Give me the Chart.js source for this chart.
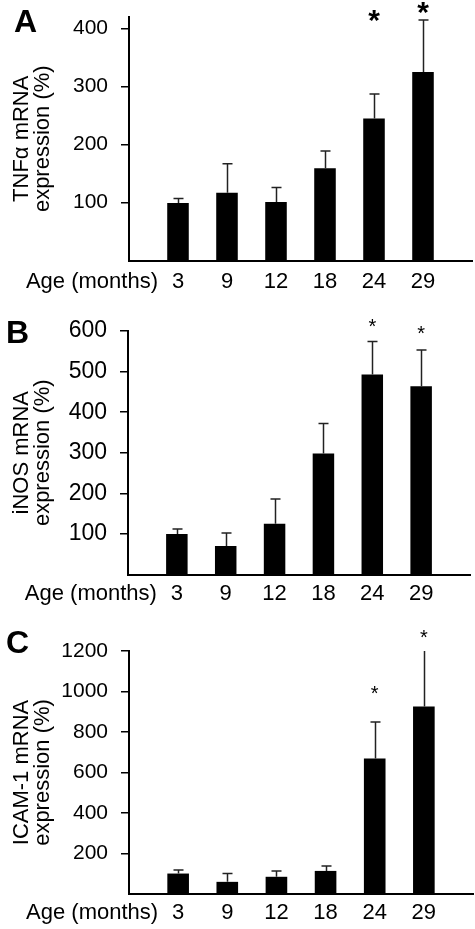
<!DOCTYPE html>
<html>
<head>
<meta charset="utf-8">
<script src="https://cdn.jsdelivr.net/npm/chart.js@4.4.1/dist/chart.umd.min.js"></script>
<style>
  html, body { margin: 0; padding: 0; background: #fff; }
  #wrap { position: relative; width: 475px; height: 929px; }
  canvas { position: absolute; left: 0; }
</style>
</head>
<body>
<div id="wrap">
  <canvas id="panel-a" width="475" height="300" style="top:0px"></canvas>
  <canvas id="panel-b" width="475" height="305" style="top:300px"></canvas>
  <canvas id="panel-c" width="475" height="324" style="top:605px"></canvas>
</div>
<script>
// ============================================
// DATA (% of 3-month level)
// ============================================
const ages = ['3', '9', '12', '18', '24', '29'];

const tnfMean = [99, 117, 101, 159, 245, 325];
const tnfErr  = [8, 50, 25, 30, 42, 90];
const tnfTicks = [100, 200, 300, 400];
const tnfStars = [null, null, null, null, 422, 436]; // asterisk level

const inosMean = [100, 70, 125, 298, 493, 464];
const inosErr  = [12, 32, 61, 74, 81, 89];
const inosTicks = [100, 200, 300, 400, 500, 600];
const inosStars = [null, null, null, null, 620, 603];

const icamMean = [101, 60, 85, 114, 669, 926];
const icamErr  = [18, 41, 29, 24, 180, 300];
const icamTicks = [200, 400, 600, 800, 1000, 1200];
const icamStars = [null, null, null, null, 1007, 1283];

const FONT = "'Liberation Sans', Arial, sans-serif";
const X_FONT = 22;

// ============================================
// DRAWING HELPERS
// ============================================
// error bars, asterisks, panel letter and the "Age (months)" row label
const panelDecor = {
    id: 'panelDecor',
    afterDatasetsDraw(chart, args, opts) {
        const { ctx, chartArea: area, scales: { x, y } } = chart;

        ctx.save();
        ctx.beginPath();
        ctx.rect(area.left, area.top, area.right - area.left, area.bottom - area.top);
        ctx.clip();
        ctx.strokeStyle = '#222';
        ctx.lineWidth = 1.5;
        opts.mean.forEach((m, i) => {
            const px = Math.round(x.getPixelForValue(i + 1)) + 0.5;
            const y0 = y.getPixelForValue(m);
            const y1 = y.getPixelForValue(m + opts.err[i]);
            ctx.beginPath();
            ctx.moveTo(px, y0);
            ctx.lineTo(px, y1);
            ctx.moveTo(px - 5, y1);
            ctx.lineTo(px + 5, y1);
            ctx.stroke();
        });
        ctx.restore();

        ctx.save();
        ctx.fillStyle = '#000';
        ctx.font = opts.starFont;
        ctx.textAlign = 'center';
        ctx.textBaseline = 'alphabetic';
        opts.stars.forEach((s, i) => {
            if (s === null) return;
            const px = x.getPixelForValue(i + 1);
            const py = y.getPixelForValue(s);
            const m = ctx.measureText('*');
            const mid = (m.actualBoundingBoxAscent - m.actualBoundingBoxDescent) / 2;
            ctx.fillText('*', px, py + mid);
        });

        ctx.font = `bold 32px ${FONT}`;
        ctx.textAlign = 'left';
        ctx.fillText(opts.letter, opts.letterX, opts.letterY);

        ctx.font = `${X_FONT}px ${FONT}`;
        ctx.textAlign = 'right';
        ctx.textBaseline = 'middle';
        ctx.fillText('Age (months)', x.getPixelForValue(1) - 20, x.top + opts.xPad + X_FONT * 1.2 / 2);
        ctx.restore();
    }
};

function makePanel(id, title, mean, err, stars, yMax, yTicks, area, letter, starFont, xPad, yFont) {
    const canvas = document.getElementById(id);
    const W = canvas.width, H = canvas.height;
    const labels = ['', ...ages, ''];
    const data = [null, ...mean, null];

    return new Chart(canvas, {
        type: 'bar',
        data: {
            labels: labels,
            datasets: [{
                data: data,
                backgroundColor: '#000',
                borderWidth: 0,
                categoryPercentage: 1,
                barPercentage: 0.44
            }]
        },
        options: {
            responsive: false,
            animation: false,
            devicePixelRatio: 1,
            layout: {
                padding: { top: area.top, right: W - area.right, left: 0, bottom: 0 }
            },
            plugins: {
                legend: { display: false },
                tooltip: { enabled: false },
                panelDecor: {
                    mean: mean, err: err, stars: stars,
                    letter: letter.text, letterX: letter.x, letterY: letter.y,
                    starFont: starFont, xPad: xPad
                }
            },
            scales: {
                x: {
                    type: 'category',
                    offset: false,
                    grid: { display: false, drawTicks: false },
                    border: { display: true, color: '#000', width: 2 },
                    ticks: {
                        color: '#000',
                        padding: xPad,
                        autoSkip: false,
                        maxRotation: 0,
                        font: { family: FONT, size: X_FONT }
                    },
                    afterFit: (scale) => {
                        scale.height = H - area.bottom;
                        scale.paddingLeft = 0;
                        scale.paddingRight = 0;
                    }
                },
                y: {
                    type: 'linear',
                    min: 0,
                    max: yMax,
                    afterBuildTicks: (scale) => {
                        scale.ticks = yTicks.map(v => ({ value: v }));
                    },
                    grid: {
                        display: true,
                        drawOnChartArea: false,
                        drawTicks: true,
                        tickLength: 8,
                        color: '#000',
                        lineWidth: 1.5
                    },
                    border: { display: true, color: '#000', width: 2 },
                    ticks: {
                        color: '#000',
                        padding: 13,
                        font: { family: FONT, size: yFont },
                        callback: (v) => String(v)
                    },
                    title: {
                        display: true,
                        text: title,
                        color: '#000',
                        font: { family: FONT, size: 22, lineHeight: 0.96 },
                        padding: { top: 11, bottom: 0 }
                    },
                    afterFit: (scale) => {
                        scale.width = area.left;
                        scale.paddingTop = 0;
                        scale.paddingBottom = 0;
                    }
                }
            }
        },
        plugins: [panelDecor]
    });
}

// ============================================
// PANELS
// ============================================
document.addEventListener('DOMContentLoaded', () => {
    makePanel('panel-a', ['TNF\u03B1 mRNA', 'expression (%)'], tnfMean, tnfErr, tnfStars,
        420, tnfTicks, { left: 129, top: 17, right: 472, bottom: 260.5 },
        { text: 'A', x: 14, y: 32 }, `bold 30px ${FONT}`, 8, 21);

    makePanel('panel-b', ['iNOS mRNA', 'expression (%)'], inosMean, inosErr, inosStars,
        600, inosTicks, { left: 128, top: 31, right: 470, bottom: 274.5 },
        { text: 'B', x: 6, y: 43 }, `20px ${FONT}`, 6, 23);

    makePanel('panel-c', ['ICAM-1 mRNA', 'expression (%)'], icamMean, icamErr, icamStars,
        1200, icamTicks, { left: 129, top: 46, right: 473, bottom: 289 },
        { text: 'C', x: 6, y: 48 }, `20px ${FONT}`, 6, 21);
});
</script>
</body>
</html>
